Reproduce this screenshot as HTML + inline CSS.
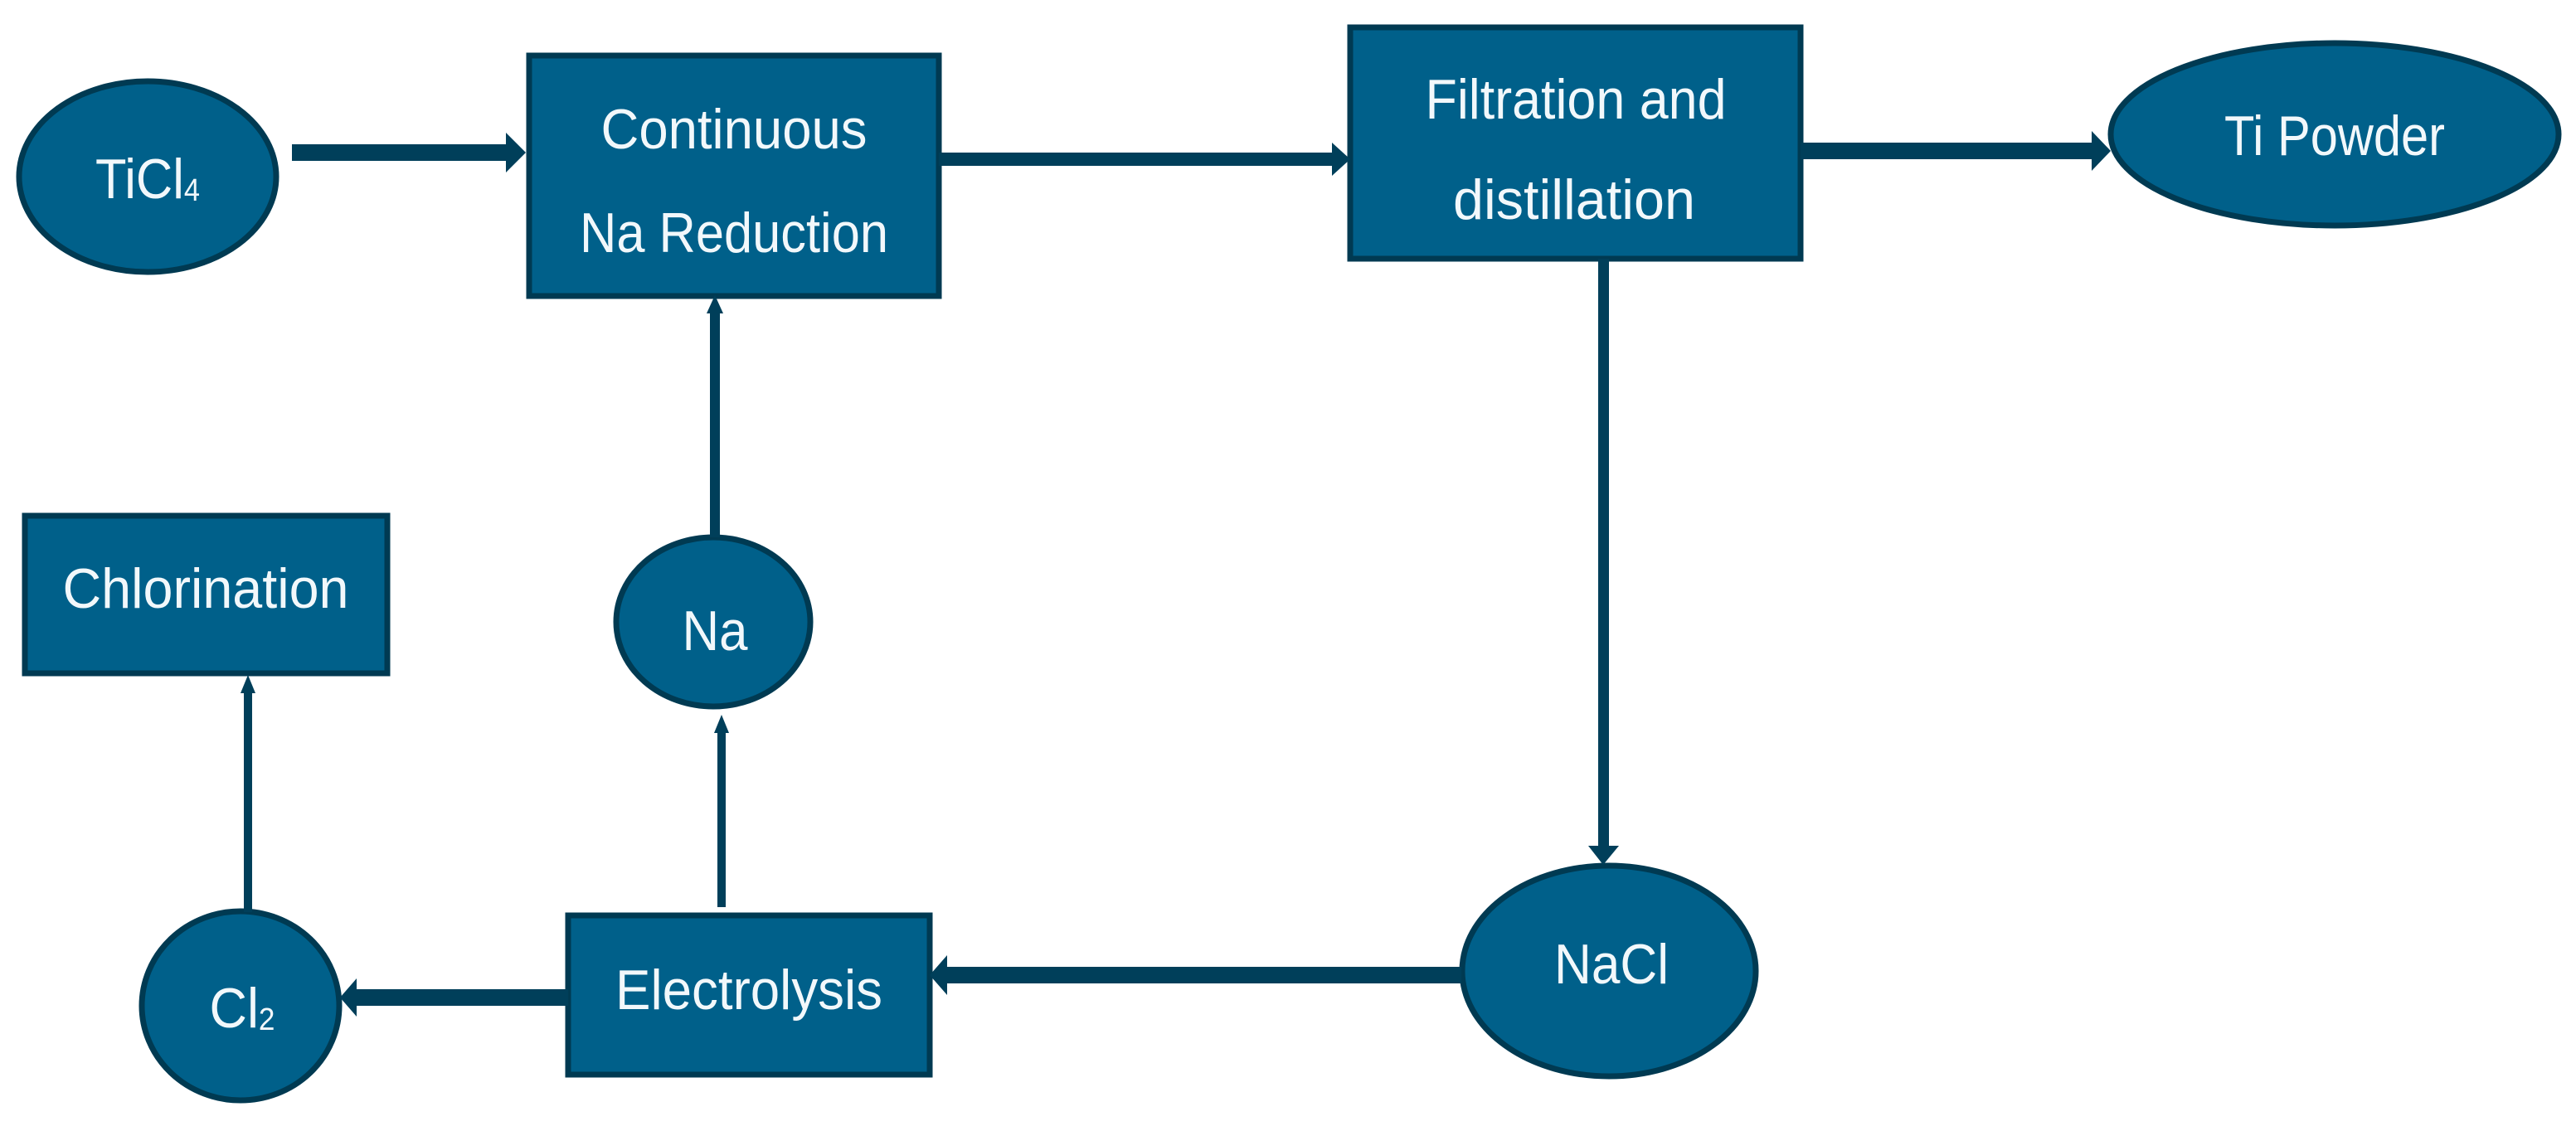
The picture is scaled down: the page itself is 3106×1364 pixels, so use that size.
<!DOCTYPE html>
<html><head><meta charset="utf-8"><style>
html,body{margin:0;padding:0;background:#fff;}
svg{display:block;}
text{font-family:"Liberation Sans",sans-serif;fill:#f2f8fb;font-size:68px;dominant-baseline:central;text-anchor:middle;}
</style></head><body>
<svg width="3106" height="1364" viewBox="0 0 3106 1364" xmlns="http://www.w3.org/2000/svg">
<g fill="#00608a" stroke="#003a52" stroke-width="7">
<ellipse cx="178" cy="213" rx="155" ry="115"/>
<rect x="638" y="67" width="494" height="290"/>
<rect x="1628" y="33" width="543" height="279"/>
<ellipse cx="2815" cy="162" rx="270" ry="110"/>
<rect x="30" y="622" width="437" height="190"/>
<ellipse cx="860" cy="750" rx="117" ry="102"/>
<ellipse cx="290" cy="1213" rx="119" ry="114"/>
<rect x="685" y="1104" width="436" height="192"/>
<ellipse cx="1940" cy="1171" rx="177" ry="127"/>
</g>
<g fill="#003f5a" stroke="none">
<!-- TiCl4 -> CNR -->
<rect x="352" y="174" width="262" height="20"/>
<polygon points="610,160 634,184 610,208"/>
<!-- CNR -> Filtration -->
<rect x="1132" y="184" width="478" height="16"/>
<polygon points="1606,172 1628,192 1606,212"/>
<!-- Filtration -> Ti Powder -->
<rect x="2171" y="172" width="355" height="20"/>
<polygon points="2522,158 2545,182 2522,206"/>
<!-- Filtration -> NaCl -->
<rect x="1927" y="312" width="13" height="712"/>
<polygon points="1915,1020 1952,1020 1933,1043"/>
<!-- NaCl -> Electrolysis -->
<rect x="1140" y="1166" width="622" height="20"/>
<polygon points="1142,1152 1121,1176 1142,1200"/>
<!-- Electrolysis -> Cl2 -->
<rect x="428" y="1193" width="257" height="20"/>
<polygon points="430,1180 410,1203 430,1226"/>
<!-- Cl2 -> Chlorination -->
<rect x="294" y="830" width="10" height="270"/>
<polygon points="290,836 299,814 308,836"/>
<!-- Electrolysis -> Na -->
<rect x="865" y="880" width="10" height="214"/>
<polygon points="861,884 870,862 879,884"/>
<!-- Na -> CNR -->
<rect x="856" y="374" width="12" height="274"/>
<polygon points="852,378 862,356 872,378"/>
</g>
<text x="178" y="216" textLength="126" lengthAdjust="spacingAndGlyphs">TiCl<tspan font-size="38" dy="14">4</tspan></text>
<text x="885" y="156" textLength="321" lengthAdjust="spacingAndGlyphs">Continuous</text>
<text x="885" y="281" textLength="372" lengthAdjust="spacingAndGlyphs">Na Reduction</text>
<text x="1900" y="120" textLength="363" lengthAdjust="spacingAndGlyphs">Filtration and</text>
<text x="1898" y="241" textLength="292" lengthAdjust="spacingAndGlyphs">distillation</text>
<text x="2815" y="164" textLength="266" lengthAdjust="spacingAndGlyphs">Ti Powder</text>
<text x="248" y="710" textLength="345" lengthAdjust="spacingAndGlyphs">Chlorination</text>
<text x="862" y="761" textLength="79" lengthAdjust="spacingAndGlyphs">Na</text>
<text x="903" y="1194" textLength="322" lengthAdjust="spacingAndGlyphs">Electrolysis</text>
<text x="292" y="1216" textLength="79" lengthAdjust="spacingAndGlyphs">Cl<tspan font-size="38" dy="14">2</tspan></text>
<text x="1943" y="1163" textLength="138" lengthAdjust="spacingAndGlyphs">NaCl</text>
</svg>
</body></html>
